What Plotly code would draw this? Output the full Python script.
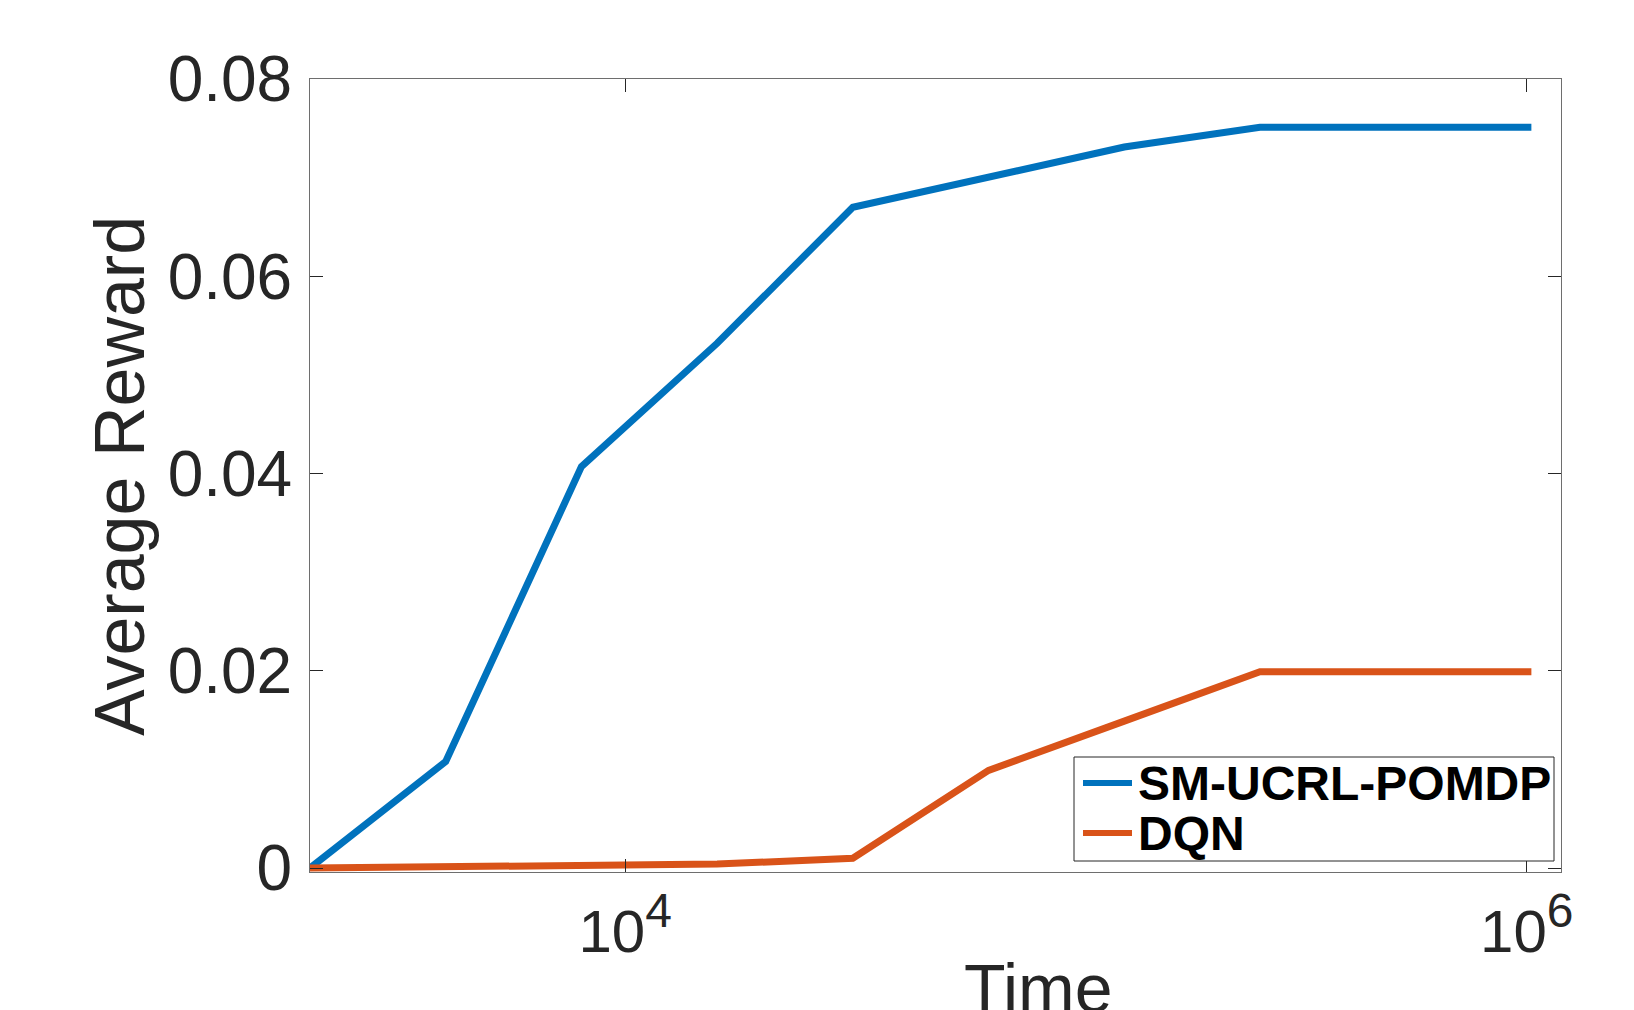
import plotly.graph_objects as go

# ---- data ----
time_steps = [2000, 4000, 8000, 16000, 32000, 64000, 128000, 256000, 1024000]
sm_ucrl_pomdp = [0.0, 0.0108, 0.0407, 0.0532, 0.0670, 0.0701, 0.0731, 0.0751, 0.0751]
dqn = [0.0, 0.0001, 0.0002, 0.0004, 0.0010, 0.0099, 0.0149, 0.0199, 0.0199]
series_names = ["SM-UCRL-POMDP", "DQN"]
series_colors = ["#0072BD", "#D95319"]
x_tickvals = [1e4, 1e6]
x_ticktext = ["10<sup><span style='font-size:48px'>4</span></sup>",
              "10<sup><span style='font-size:48px'>6</span></sup>"]
y_tickvals = [0, 0.02, 0.04, 0.06, 0.08]
y_ticktext = ["0", "0.02", "0.04", "0.06", "0.08"]

OFF = 8  # page body margin
W, H = 1634 - OFF, 1010 - OFF
L, R, T, B = 310 - OFF, 1561 - OFF, 79 - OFF, 872 - OFF
pw, ph = R - L, B - T


def px(x):
    return (x - OFF - L) / pw


def py(y):
    return (B - (y - OFF)) / ph


FONT = "Liberation Sans, Arial, Helvetica, sans-serif"
AX = "#262626"

fig = go.Figure()
for name, vals, col in zip(series_names, [sm_ucrl_pomdp, dqn], series_colors):
    fig.add_trace(go.Scatter(x=time_steps, y=vals, mode="lines", name=name,
                             line=dict(color=col, width=7), showlegend=False))

fig.update_layout(
    width=W, height=H,
    margin=dict(l=L, r=W - R, t=T, b=H - B),
    paper_bgcolor="white", plot_bgcolor="white",
    font=dict(family=FONT, color=AX),
    xaxis=dict(type="log", range=[3.301, 6.076], tickvals=x_tickvals, ticktext=x_ticktext,
               ticks="inside", ticklen=13, tickwidth=1, tickcolor=AX,
               showline=True, linecolor="#6e6e6e", linewidth=1, mirror="ticks",
               showgrid=False, zeroline=False,
               tickfont=dict(size=60, family=FONT, color=AX), ticklabelstandoff=7),
    yaxis=dict(range=[-0.0004, 0.08], tickvals=y_tickvals, ticktext=y_ticktext,
               ticks="inside", ticklen=13, tickwidth=1, tickcolor=AX,
               showline=True, linecolor="#6e6e6e", linewidth=1, mirror="ticks",
               showgrid=False, zeroline=False,
               tickfont=dict(size=64, family=FONT, color=AX), ticklabelstandoff=4),
)

# axis titles
fig.add_annotation(text="Average Reward", xref="paper", yref="paper",
                   x=px(120), y=py(476), xanchor="center", yanchor="middle",
                   textangle=-90, showarrow=False,
                   font=dict(size=70, family=FONT, color=AX))
fig.add_annotation(text="Time", xref="paper", yref="paper",
                   x=px(1038), y=py(948), xanchor="center", yanchor="top",
                   showarrow=False, font=dict(size=68, family=FONT, color=AX))

# legend box
fig.add_shape(type="rect", xref="paper", yref="paper",
              x0=px(1074), x1=px(1554), y0=py(861), y1=py(757),
              line=dict(color=AX, width=1), fillcolor="white", layer="above")
rows_y = [783, 833]
for name, col, ry in zip(series_names, series_colors, rows_y):
    fig.add_shape(type="line", xref="paper", yref="paper",
                  x0=px(1083), x1=px(1132), y0=py(ry), y1=py(ry),
                  line=dict(color=col, width=6), layer="above")
    fig.add_annotation(text="<b>" + name + "</b>", xref="paper", yref="paper",
                       x=px(1136), y=py(ry), xanchor="left", yanchor="middle",
                       showarrow=False, font=dict(size=48, family=FONT, color="black"))

fig.write_html("out.html")
